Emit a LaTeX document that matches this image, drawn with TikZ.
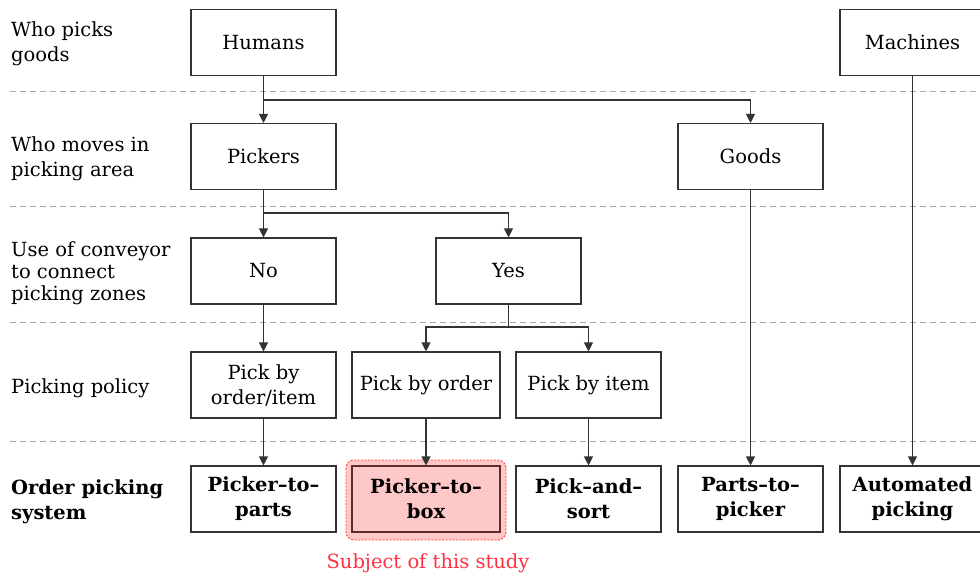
\documentclass[tikz,border=0pt]{standalone}
\usepackage{fontspec}
\setmainfont{DejaVu Serif}
\usetikzlibrary{arrows.meta}
\definecolor{boxline}{HTML}{333333}
\definecolor{hlfill}{HTML}{FFC8C8}
\definecolor{hlline}{HTML}{FF4040}
\definecolor{hlbox}{HTML}{5A2E2E}
\definecolor{subj}{HTML}{FF3040}
\tikzset{
  stepbox/.style={draw=boxline, line width=1.1pt, minimum width=145pt, minimum height=66pt,
    align=center, inner sep=1pt, font=\fontsize{19.5}{25}\selectfont},
  botbox/.style={stepbox, font=\fontsize{19.5}{25}\selectfont\bfseries},
  rowlabel/.style={anchor=west, align=left, inner sep=0pt, font=\fontsize{19.5}{25}\selectfont},
  sepline/.style={draw=gray!70, line width=0.8pt, dash pattern=on 6pt off 4pt},
  arr/.style={draw=boxline, line width=1.1pt, -{Triangle[length=9pt,width=9pt]}},
  link/.style={draw=boxline, line width=1.1pt}
}
\begin{document}
\begin{tikzpicture}[x=1pt,y=-1pt]
\useasboundingbox (0,0) rectangle (980,577);
% separators
\foreach \yy in {91,206,322,441} \draw[sepline] (10,\yy) -- (980,\yy);
% row labels
\node[rowlabel] (l1) at (11,44) {Who picks\\goods};
\node[rowlabel] (l2) at (11,159) {Who moves in\\picking area};
\node[rowlabel, font=\fontsize{19.5}{22}\selectfont] (l3) at (11,273) {Use of conveyor\\to connect\\picking zones};
\node[rowlabel] (l4) at (11,388) {Picking policy};
\node[rowlabel, font=\fontsize{19.5}{25}\selectfont\bfseries] (l5) at (11,502) {Order picking\\system};
% highlight
\draw[draw=hlline, fill=hlfill, line width=0.9pt, dash pattern=on 2pt off 1.5pt, rounded corners=8pt] (346,460) rectangle (506,540);
% nodes
\node[stepbox] (hum) at (263.5,42.5) {Humans};
\node[stepbox] (mac) at (912.5,42.5) {Machines};
\node[stepbox] (pic) at (263.5,156.5) {Pickers};
\node[stepbox] (goo) at (750.5,156.5) {Goods};
\node[stepbox] (no) at (263.5,271) {No};
\node[stepbox] (yes) at (508.5,271) {Yes};
\node[stepbox] (pboi) at (263.5,385) {Pick by\\order/item};
\node[stepbox, minimum width=148pt] (pbo) at (426,385) {Pick by order};
\node[stepbox] (pbi) at (588.5,385) {Pick by item};
\node[botbox] (ptp) at (263.5,499) {Picker–to–\\parts};
\node[botbox, minimum width=148pt, draw=hlbox] (ptb) at (426,499) {Picker–to–\\box};
\node[botbox] (pas) at (588.5,499) {Pick–and–\\sort};
\node[botbox] (ptk) at (750.5,499) {Parts–to–\\picker};
\node[botbox] (aut) at (912.5,499) {Automated\\picking};
\node[text=subj, font=\fontsize{19.5}{22}\selectfont] (sub) at (428,563) {Subject of this study};
% junctions
\coordinate (j1) at (263.5,100);
\coordinate (j2) at (263.5,213);
\coordinate (j3) at (508.5,327);
% connectors
\draw[arr] (hum.south) -- (pic.north);
\draw[arr] (j1) -| (goo.north);
\draw[arr] (pic.south) -- (no.north);
\draw[arr] (j2) -| (yes.north);
\draw[arr] (no.south) -- (pboi.north);
\draw[link] (yes.south) -- (j3);
\draw[arr] (j3) -| (pbo.north);
\draw[arr] (j3) -| (pbi.north);
\draw[arr] (pboi.south) -- (ptp.north);
\draw[arr] (pbo.south) -- (ptb.north);
\draw[arr] (pbi.south) -- (pas.north);
\draw[arr] (goo.south) -- (ptk.north);
\draw[arr] (mac.south) -- (aut.north);
\end{tikzpicture}
\end{document}
